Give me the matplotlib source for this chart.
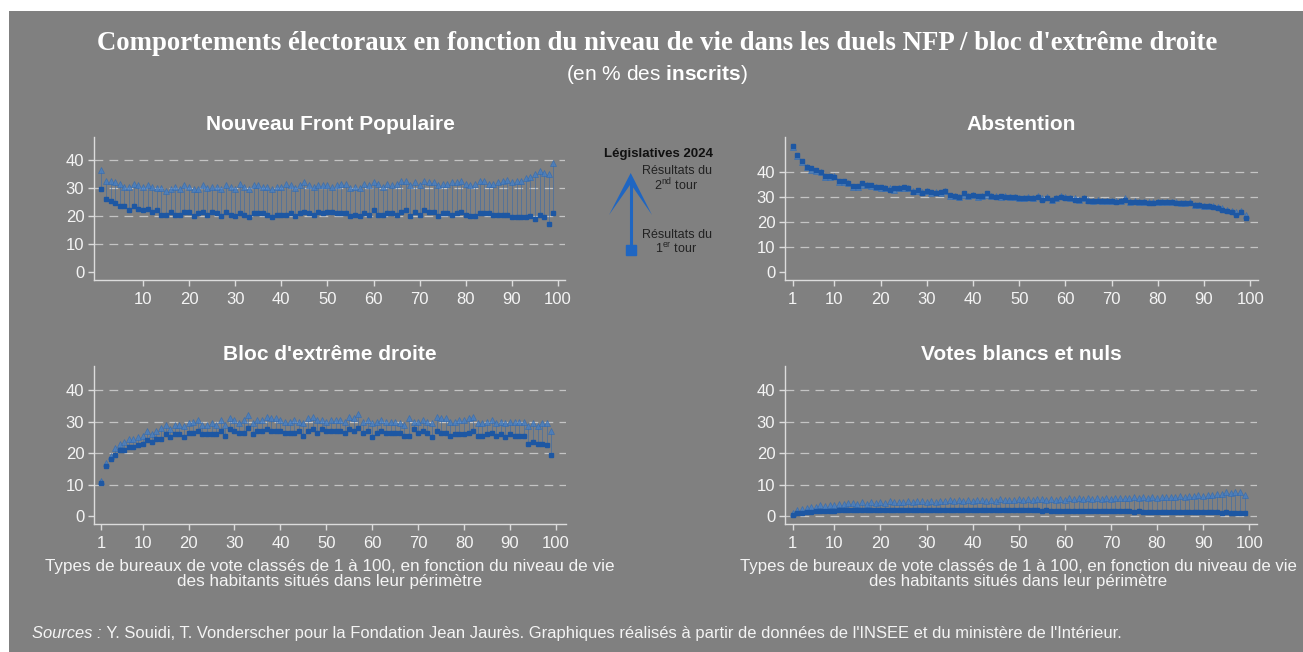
import matplotlib
matplotlib.use("Agg")
import matplotlib.pyplot as plt
from matplotlib.patches import Rectangle, Polygon
import numpy as np

plt.rcParams['font.family'] = 'Liberation Sans'
plt.rcParams['mathtext.fontset'] = 'custom'
plt.rcParams['mathtext.rm'] = 'Liberation Sans'
plt.rcParams['mathtext.it'] = 'Liberation Sans:italic'
plt.rcParams['mathtext.bf'] = 'Liberation Sans:bold'

# types de bureaux de vote, 1 a 99
TYPES = np.arange(1, 100)

# Nouveau Front Populaire (% des inscrits)
NFP_T1 = [29.5, 26.0, 25.5, 24.5, 23.5, 23.5, 22.0, 23.5, 22.5, 22.0,
          22.5, 21.5, 22.0, 20.5, 20.5, 21.5, 20.5, 20.5, 21.5, 21.5,
          20.0, 21.0, 21.5, 20.5, 21.5, 21.0, 20.0, 21.5, 20.5, 20.0,
          21.0, 20.5, 19.5, 21.0, 21.0, 21.0, 20.5, 19.5, 20.5, 20.5,
          20.5, 21.0, 20.0, 21.0, 21.5, 21.0, 20.5, 21.5, 21.0, 21.5,
          21.5, 21.0, 21.0, 21.0, 20.0, 20.5, 20.0, 21.0, 20.5, 22.0,
          20.5, 20.5, 21.0, 21.0, 20.5, 21.5, 22.0, 20.0, 21.5, 20.5,
          22.0, 21.5, 21.5, 20.0, 21.0, 21.0, 20.5, 21.0, 21.5, 20.5,
          20.0, 20.0, 21.0, 21.0, 21.0, 20.5, 20.5, 20.5, 20.5, 19.5,
          19.5, 19.5, 19.5, 20.0, 19.0, 20.5, 19.5, 17.0, 21.0]
NFP_T2 = [36.5, 32.5, 32.5, 32.0, 31.5, 30.5, 30.5, 31.5, 31.0, 30.5,
          31.0, 30.5, 30.0, 30.0, 29.0, 29.5, 30.5, 29.5, 31.0, 30.5,
          29.5, 29.5, 31.0, 30.0, 30.5, 30.5, 29.5, 31.0, 30.5, 29.5,
          31.5, 30.5, 29.5, 31.0, 31.0, 30.5, 30.5, 29.5, 30.5, 30.5,
          31.5, 31.0, 30.0, 31.0, 32.0, 31.0, 30.5, 31.0, 31.0, 31.0,
          30.5, 31.0, 31.5, 31.5, 30.0, 30.5, 30.0, 31.5, 31.0, 32.0,
          31.5, 30.5, 31.5, 31.0, 31.5, 32.5, 32.5, 31.0, 32.0, 31.0,
          32.5, 32.0, 32.0, 31.0, 31.5, 31.5, 32.0, 32.0, 32.5, 31.5,
          31.0, 31.5, 32.5, 32.5, 31.5, 31.5, 32.0, 32.5, 33.0, 32.0,
          32.5, 32.5, 33.5, 34.0, 35.0, 36.0, 35.5, 35.0, 39.0]

# Abstention
ABS_T1 = [50.5, 47.0, 44.5, 42.0, 41.5, 41.0, 40.0, 38.5, 38.5, 38.0,
          36.5, 36.5, 35.5, 34.5, 34.5, 35.5, 35.0, 35.0, 34.0, 34.0,
          33.5, 33.0, 33.5, 33.5, 34.0, 33.5, 32.0, 33.0, 31.5, 32.5,
          32.0, 31.5, 32.0, 32.5, 31.0, 30.5, 30.0, 31.5, 30.5, 31.0,
          30.5, 30.5, 31.5, 30.5, 30.0, 30.5, 30.0, 30.0, 30.0, 29.5,
          29.5, 29.5, 29.5, 30.0, 29.0, 29.5, 29.0, 29.5, 30.0, 29.5,
          29.5, 29.0, 29.0, 29.5, 28.5, 28.5, 28.5, 28.5, 28.5, 28.5,
          28.0, 28.5, 29.0, 28.0, 28.0, 28.0, 28.0, 27.5, 27.5, 28.0,
          28.0, 28.0, 28.0, 27.5, 27.5, 27.5, 27.5, 27.0, 27.0, 26.5,
          26.5, 26.0, 25.5, 25.0, 24.5, 24.0, 23.0, 24.0, 21.5]
ABS_T2 = [50.0, 46.5, 44.0, 42.0, 41.0, 40.5, 40.0, 38.0, 38.0, 38.5,
          36.0, 36.0, 35.5, 34.0, 34.0, 35.0, 35.0, 34.5, 34.0, 33.5,
          33.5, 33.5, 33.0, 33.5, 33.5, 33.5, 32.5, 32.5, 32.0, 32.5,
          31.5, 32.0, 31.5, 32.5, 30.5, 30.5, 30.0, 31.0, 30.5, 31.0,
          30.0, 30.5, 31.0, 30.5, 30.5, 30.0, 30.5, 30.0, 30.0, 29.5,
          29.5, 30.0, 29.5, 30.5, 29.5, 30.0, 29.0, 29.5, 30.5, 30.0,
          29.5, 29.5, 29.0, 29.5, 29.0, 28.5, 29.0, 28.5, 28.5, 28.5,
          28.5, 28.5, 29.5, 28.0, 28.5, 28.0, 28.0, 28.0, 28.0, 28.0,
          28.0, 28.0, 28.0, 28.0, 27.5, 27.5, 28.0, 27.0, 27.0, 26.5,
          26.5, 26.5, 26.0, 25.5, 25.0, 24.5, 24.0, 24.5, 23.0]

# Bloc d'extreme droite
ED_T1 = [10.5, 16.0, 18.0, 19.5, 21.0, 21.0, 22.0, 22.0, 22.5, 23.0,
         24.0, 23.5, 24.5, 24.5, 26.0, 25.0, 26.0, 26.0, 25.0, 26.5,
         26.5, 27.0, 26.0, 26.0, 26.0, 26.0, 27.0, 25.5, 27.5, 27.0,
         26.5, 26.5, 28.0, 26.0, 27.0, 27.0, 27.5, 27.0, 27.0, 27.0,
         26.5, 26.5, 26.5, 27.0, 25.5, 27.0, 27.5, 26.5, 27.5, 27.0,
         27.0, 27.0, 27.0, 26.5, 27.5, 27.0, 28.0, 26.5, 27.0, 25.0,
         26.5, 27.0, 26.5, 26.5, 26.5, 26.5, 25.5, 25.5, 27.5, 26.5,
         27.0, 26.5, 25.0, 27.0, 26.5, 26.5, 25.5, 26.0, 26.0, 26.0,
         26.5, 27.0, 25.5, 25.5, 26.0, 26.5, 25.5, 26.0, 25.0, 26.0,
         25.5, 25.5, 25.5, 23.0, 23.5, 23.0, 23.0, 22.5, 19.5]
ED_T2 = [11.0, 17.0, 19.0, 21.5, 23.0, 23.5, 24.5, 24.5, 25.0, 25.5,
         27.0, 26.0, 27.0, 28.0, 29.0, 27.5, 29.0, 29.0, 28.5, 29.5,
         30.0, 30.5, 29.0, 29.0, 29.5, 29.0, 30.5, 29.0, 31.0, 30.5,
         29.5, 30.5, 32.0, 29.5, 30.5, 30.5, 31.5, 31.0, 31.0, 30.5,
         30.0, 30.0, 30.5, 30.0, 29.5, 31.0, 31.5, 30.5, 30.5, 30.0,
         30.5, 30.5, 30.5, 30.0, 31.5, 31.0, 32.5, 30.0, 30.5, 29.5,
         30.0, 30.5, 30.0, 30.0, 30.0, 29.5, 29.0, 31.0, 30.0, 30.0,
         30.5, 30.0, 29.5, 31.5, 31.0, 31.0, 30.0, 30.0, 30.5, 30.5,
         31.0, 31.5, 29.5, 29.5, 30.0, 30.5, 29.5, 30.0, 29.5, 30.0,
         30.0, 30.0, 30.0, 28.5, 29.5, 28.5, 29.5, 29.5, 27.0]

# Votes blancs et nuls
VBN_T1 = [0.5, 0.9, 1.1, 1.3, 1.4, 1.5, 1.6, 1.6, 1.7, 1.7,
          1.8, 1.8, 1.8, 1.9, 1.9, 1.9, 1.9, 2.0, 2.0, 1.9,
          2.0, 2.0, 2.0, 2.0, 1.9, 2.0, 2.0, 2.0, 2.0, 2.0,
          2.0, 2.0, 1.9, 2.0, 2.0, 1.9, 2.0, 2.0, 1.9, 1.9,
          1.9, 1.9, 1.9, 1.9, 1.9, 1.9, 1.8, 1.9, 1.8, 1.8,
          1.8, 1.8, 1.8, 1.8, 1.7, 1.8, 1.7, 1.7, 1.7, 1.7,
          1.7, 1.6, 1.6, 1.6, 1.6, 1.6, 1.6, 1.5, 1.6, 1.5,
          1.5, 1.5, 1.5, 1.5, 1.4, 1.5, 1.4, 1.4, 1.4, 1.4,
          1.4, 1.3, 1.4, 1.3, 1.3, 1.3, 1.3, 1.2, 1.3, 1.2,
          1.2, 1.2, 1.2, 1.1, 1.2, 1.1, 1.1, 1.1, 1.0]
VBN_T2 = [1.0, 1.8, 2.3, 2.6, 3.0, 3.0, 3.4, 3.2, 3.6, 3.5,
          3.9, 3.7, 4.1, 4.3, 3.9, 4.4, 4.0, 4.5, 4.2, 4.6,
          4.3, 4.7, 4.4, 4.6, 4.4, 4.8, 4.5, 4.7, 4.9, 4.5,
          4.8, 4.6, 4.9, 4.7, 5.0, 4.7, 5.1, 4.8, 5.1, 4.9,
          5.2, 5.0, 4.8, 5.2, 4.9, 5.3, 5.0, 5.2, 5.0, 5.3,
          5.0, 5.4, 5.1, 5.3, 5.5, 5.1, 5.4, 5.2, 5.5, 5.2,
          5.6, 5.3, 5.6, 5.4, 5.7, 5.4, 5.8, 5.5, 5.7, 5.5,
          5.9, 5.6, 5.9, 5.7, 6.0, 5.8, 6.0, 5.8, 6.1, 5.9,
          6.2, 6.0, 6.2, 6.1, 6.4, 6.2, 6.5, 6.3, 6.6, 6.4,
          6.8, 6.6, 7.0, 7.1, 7.6, 7.2, 7.8, 7.5, 6.6]

Y_TICKS = [0, 10, 20, 30, 40]
X_TICKS = [1, 10, 20, 30, 40, 50, 60, 70, 80, 90, 100]
X_TICKS_NFP = [10, 20, 30, 40, 50, 60, 70, 80, 90, 100]

FOND = '#808080'
BLEU_T1 = '#1d57a3'
BLEU_T2 = '#4580c8'
BLEU_LIEN = '#3a6aa8'
BLEU_FLECHE = '#1f66c2'
AXE = '#dcdcdc'
TXT = '#f4f4f4'
W, H = 1303, 652

fig = plt.figure(figsize=(W / 100, H / 100), dpi=100, facecolor='white')
fig.add_artist(Rectangle((9 / W, 0), 1, 1 - 11 / H, transform=fig.transFigure,
                         facecolor=FOND, edgecolor='none', zorder=-10))


def panneau(rect, t1, t2, xlim, ylim, xticks, grille_zero=False):
    ax = fig.add_axes(rect)
    ax.set_facecolor('none')
    ax.vlines(TYPES, t1, t2, color=BLEU_LIEN, lw=0.6, alpha=0.7, zorder=2)
    ax.plot(TYPES, t2, ls='none', marker='^', ms=4, mfc=BLEU_T2, mec='#2c68b3',
            mew=0.5, alpha=0.75, zorder=3)
    ax.plot(TYPES, t1, ls='none', marker='s', ms=2.2, color=BLEU_T1, zorder=4)
    ax.set_xlim(xlim)
    ax.set_ylim(ylim)
    ax.set_xticks(xticks)
    ax.set_yticks(Y_TICKS)
    for y in Y_TICKS:
        if y > 0 or grille_zero:
            ax.axhline(y, color='#c4c4c4', lw=0.9, ls=(0, (7, 5)), zorder=1)
    for s in ['top', 'right']:
        ax.spines[s].set_visible(False)
    for s in ['left', 'bottom']:
        ax.spines[s].set_color(AXE)
        ax.spines[s].set_linewidth(1.0)
    ax.tick_params(colors=AXE, labelcolor=TXT, labelsize=12, length=4, width=1)
    ax.tick_params(axis='x', pad=5)
    ax.tick_params(axis='y', pad=3)
    return ax


panneau([94 / W, 1 - 280 / H, 471 / W, 143 / H], NFP_T1, NFP_T2,
        (-0.6, 101.5), (-2.9, 48.2), X_TICKS_NFP)
panneau([785 / W, 1 - 280 / H, 473 / W, 143 / H], ABS_T1, ABS_T2,
        (-0.7, 101.7), (-3.2, 54.0), X_TICKS)
panneau([94 / W, 1 - 524 / H, 472 / W, 158 / H], ED_T1, ED_T2,
        (-0.6, 102.2), (-2.5, 47.6), X_TICKS)
panneau([785 / W, 1 - 524 / H, 472 / W, 158 / H], VBN_T1, VBN_T2,
        (-0.7, 101.7), (-2.5, 47.6), X_TICKS, grille_zero=True)

# titres
fig.text(657 / W, 1 - 44 / H,
         "Comportements électoraux en fonction du niveau de vie dans les duels NFP / bloc d'extrême droite",
         ha='center', va='center', color='white', fontsize=19.3,
         family='Liberation Serif', weight='bold')
fig.text(657 / W, 1 - 74 / H, r"(en % des $\mathbf{inscrits}$)",
         ha='center', va='center', color='white', fontsize=15)

for x, y, t in [(330, 125, "Nouveau Front Populaire"), (1021, 125, "Abstention"),
                (330, 354, "Bloc d'extrême droite"), (1021, 354, "Votes blancs et nuls")]:
    fig.text(x / W, 1 - y / H, t, ha='center', va='center', color='white',
             fontsize=15, weight='bold')

lib_x = ("Types de bureaux de vote classés de 1 à 100, en fonction du niveau de vie\n"
         "des habitants situés dans leur périmètre")
fig.text(330 / W, 1 - 574 / H, lib_x, ha='center', va='center', color=TXT,
         fontsize=12.3, linespacing=0.95)
fig.text(1018 / W, 1 - 574 / H, lib_x, ha='center', va='center', color=TXT,
         fontsize=12.1, linespacing=0.95)

# sources : debut en italique, suite accrochee au premier texte
src = fig.text(32 / W, 1 - 641 / H, "Sources :", ha='left', va='bottom',
               color=TXT, fontsize=11.9, style='italic')
leg = fig.add_axes([0, 0, 1, 1])
leg.set_xlim(0, W)
leg.set_ylim(H, 0)
leg.axis('off')
leg.annotate(" Y. Souidi, T. Vonderscher pour la Fondation Jean Jaurès. "
             "Graphiques réalisés à partir de données de l'INSEE et du ministère de l'Intérieur.",
             xy=(1, 0), xycoords=src, ha='left', va='bottom', color=TXT,
             fontsize=11.9, annotation_clip=False)

# legende au centre
leg.text(658, 154, "Législatives 2024", ha='center', va='center', fontsize=9.5,
         weight='bold', color='#111111')
leg.plot([630.7, 630.7], [250, 180], color=BLEU_FLECHE, lw=2.2, solid_capstyle='butt')
leg.add_patch(Polygon([(630.7, 173), (609, 215), (630.7, 184), (652, 215)],
                      closed=True, facecolor=BLEU_FLECHE, edgecolor='none'))
leg.plot([630.7], [250], marker='s', ms=7.5, color=BLEU_FLECHE, ls='none')
leg.text(676.5, 179, "Résultats du\n2$^{\\mathrm{nd}}$ tour", ha='center', va='center',
         fontsize=9, color='#222222', linespacing=1.0)
leg.text(676.5, 242.5, "Résultats du\n1$^{\\mathrm{er}}$ tour", ha='center', va='center',
         fontsize=9, color='#222222', linespacing=1.0)

fig.savefig('out.png', dpi=100)
